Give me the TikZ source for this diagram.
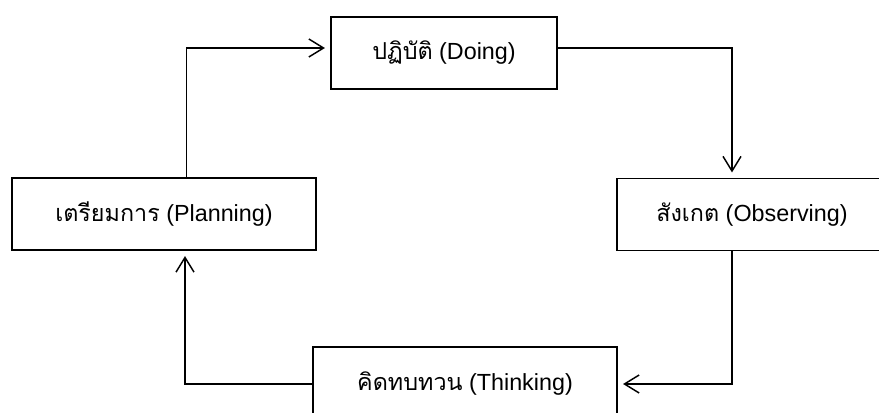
\documentclass[tikz,border=0pt]{standalone}
\usepackage{fontspec}
\setmainfont{Liberation Sans}
\newfontfamily\thaifont[Script=Thai]{Loma}
\usetikzlibrary{arrows.meta}
\tikzstyle{stage} = [draw,line width=1.1pt,inner sep=0pt,minimum height=54pt,font=\fontsize{17.5}{21}\selectfont]
\tikzstyle{arrow} = [line width=1.1pt,-{Straight Barb[length=11pt,width=13.5pt,line width=1.1pt]},shorten >=4pt]

\begin{document}
\begin{tikzpicture}[x=0.75pt,y=-0.75pt]
    \useasboundingbox (0,0) rectangle (879,413);
    \clip (0,0) rectangle (879,413);
    % stages of the cycle
    \node[stage,minimum width=169.5pt] (doing) at (444,53) {{\thaifont ปฏิบัติ} (Doing)};
    \node[stage,minimum width=228pt] (planning) at (164,214) {{\thaifont เตรียมการ} (Planning)};
    \node[stage,minimum width=202.5pt] (observing) at (752,214.5) {{\thaifont สังเกต} (Observing)};
    \node[stage,minimum width=228pt,minimum height=55.5pt] (thinking) at (465,384) {{\thaifont คิดทบทวน} (Thinking)};
    % connectors
    \draw[arrow] ([xshift=17pt]planning.north) |- ([yshift=3.75pt]doing.west);
    \draw[arrow] ([yshift=3.75pt]doing.east) -| ([xshift=-15pt]observing.north);
    \draw[arrow] ([xshift=-15pt]observing.south) |- (thinking.east);
    \draw[arrow] (thinking.west) -| ([xshift=15.75pt]planning.south);
\end{tikzpicture}
\end{document}
